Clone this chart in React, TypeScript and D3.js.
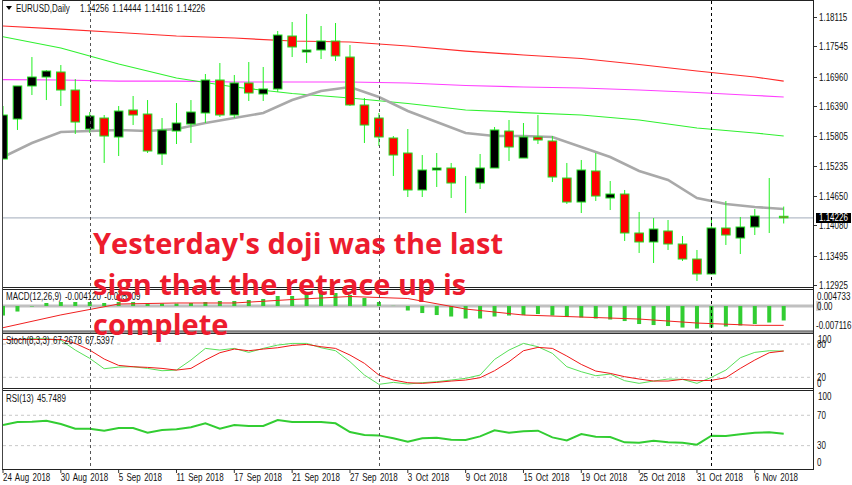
import React, { useEffect, useRef } from "react";
import * as d3 from "d3";

// open, high, low, close per daily bar
const opens = [1.15365,1.1614,1.16779,1.16953,1.1705,1.16701,1.15946,1.16159,1.15791,1.16314,1.16236,1.15462,1.15907,1.16043,1.16256,1.16895,1.16217,1.16837,1.16624,1.16721,1.17747,1.17437,1.17476,1.1765,1.1734,1.16411,1.16159,1.15772,1.15481,1.14765,1.15152,1.15191,1.149,1.149,1.15191,1.15907,1.15384,1.15791,1.15714,1.14997,1.14532,1.15133,1.1461,1.14687,1.13932,1.13758,1.13971,1.13719,1.13428,1.13138,1.14029,1.13835,1.14048,1.14261,1.14256];
const highs = [1.16391,1.16779,1.1734,1.17088,1.17185,1.16914,1.16275,1.16217,1.16391,1.16585,1.16507,1.16159,1.16449,1.16507,1.17011,1.17224,1.16992,1.17243,1.17147,1.17844,1.18018,1.18173,1.17941,1.17999,1.17573,1.16546,1.16256,1.1581,1.15946,1.15442,1.15481,1.15288,1.15036,1.15462,1.15985,1.1612,1.16062,1.16217,1.1581,1.15288,1.15346,1.15481,1.14939,1.14765,1.14339,1.14222,1.14184,1.13874,1.13603,1.14242,1.14552,1.14242,1.14397,1.14997,1.14444];
const lows = [1.15365,1.15927,1.16604,1.16507,1.16391,1.15849,1.15869,1.15288,1.15423,1.16023,1.15481,1.15249,1.15655,1.15675,1.16062,1.16178,1.16159,1.16488,1.16488,1.16662,1.1734,1.17224,1.17301,1.17263,1.16391,1.15675,1.15617,1.15036,1.14629,1.14629,1.14823,1.1461,1.14319,1.14784,1.15191,1.15326,1.15384,1.15655,1.1492,1.14494,1.14319,1.14552,1.14377,1.13777,1.13545,1.13351,1.13603,1.1339,1.13002,1.13138,1.137,1.13525,1.13893,1.13932,1.14116];
const closes = [1.16217,1.16779,1.16953,1.17069,1.16701,1.16081,1.16198,1.1581,1.16294,1.16217,1.1552,1.15927,1.16062,1.16275,1.16895,1.16217,1.16837,1.16643,1.16721,1.17766,1.17534,1.17476,1.1765,1.1736,1.16411,1.16023,1.15791,1.15442,1.14765,1.15152,1.15191,1.149,1.149,1.15191,1.15927,1.15597,1.15791,1.15733,1.15016,1.14532,1.15152,1.14648,1.14687,1.13932,1.13758,1.14009,1.13719,1.13428,1.13138,1.14029,1.13893,1.14048,1.14261,1.14261,1.14226];

// slow moving averages, read every 4th bar
const slowBars = [0,4,8,12,16,20,24,28,32,36,40,44,48,52,54];
const maRed = [1.17941,1.17882,1.17815,1.17747,1.17708,1.1765,1.17631,1.17553,1.17456,1.17379,1.17311,1.17195,1.17069,1.16953,1.16875];
const maPink = [1.16904,1.16895,1.16875,1.16875,1.16856,1.16856,1.16856,1.16837,1.16788,1.16759,1.1674,1.16701,1.16653,1.16595,1.16566];
const maGreen = [1.17733,1.17514,1.17205,1.16934,1.16759,1.16633,1.16546,1.1644,1.16314,1.16265,1.16217,1.1612,1.15965,1.15869,1.1581];

// fast average, read every 2nd bar
const grayBars = d3.range(0, 55, 2);
const maGray = [1.15404,1.15675,1.15888,1.15907,1.15927,1.15907,1.15946,1.16062,1.16159,1.16256,1.16507,1.16682,1.16759,1.16566,1.16294,1.16081,1.15869,1.1581,1.1581,1.15791,1.15597,1.15404,1.15133,1.14958,1.1461,1.14494,1.14435,1.14397];

const macdHist = [-0.00271,-0.00157,-0.00014,0.00086,0.00114,0.00114,0.00114,0.00086,0.00114,0.00114,0.00086,0.00071,0.00071,0.00086,0.00114,0.00143,0.00143,0.00171,0.002,0.00285,0.00285,0.00328,0.00371,0.00371,0.00314,0.00228,0.00114,0.00005,-0.00128,-0.002,-0.00257,-0.00299,-0.00356,-0.00356,-0.00299,-0.00271,-0.00257,-0.00228,-0.00271,-0.00314,-0.00328,-0.00356,-0.00385,-0.00428,-0.00513,-0.00542,-0.0057,-0.00613,-0.00641,-0.00613,-0.00584,-0.00556,-0.00513,-0.0047,-0.00412];
const macdSignal = [-0.00618,-0.00254,0.00057,0.00086,0.00086,0.00185,0.00271,0.00214,-0.00086,-0.00257,-0.00314,-0.00371,-0.00485,-0.0055,-0.00551];

const stochMain = [88.4,88,89.6,89.6,87,69.2,54.2,35.5,38.5,39.1,36.1,31.9,33.1,51.2,72.2,69.2,72.2,65,72.2,78.2,81.2,81.2,73.4,68,48.2,24.1,7.3,10.9,7.9,10.3,12.1,15.1,18.1,24.1,52.3,69.2,81.2,75.2,63.2,39.1,30.1,22.9,25.9,13.9,9.1,13.3,16.9,16.3,9.1,20,33.1,55.4,65,68,67.27];
const stochSignal = [88.4,88,88.4,88.4,88.4,81.2,69.2,53,41.5,39.1,37.9,36.1,33.1,36.1,51.2,64.4,71,68,71,73.4,77.6,79.4,75.2,72.2,60.2,45.2,24.1,15.1,10.3,9.1,10.9,13.3,15.1,19.3,31.9,48.2,68,74,72.2,58.4,43.3,31.3,27.1,21.1,16.9,13.3,13.3,16.3,13.9,14.5,19.3,36.1,51.2,64.4,67.54];
const rsiValues = [57.2,61.1,61.6,62.9,58.5,52.3,52.3,49.7,53.2,53.2,47.1,50.6,51.5,54.1,59.4,52.3,57.2,55.9,55.9,63.8,61.1,61.1,61.1,59.4,47.9,44,43.5,39.6,35.2,39.6,40.5,37.8,37.4,42.2,50.1,47.1,48.8,49.7,40.9,36.9,45.3,41.8,41.3,34.3,33.9,36.5,34.3,33.9,31.2,43.1,42.7,44.9,47.1,47.5,45.75];

const priceTicks = ["1.18115","1.17545","1.16960","1.16390","1.15805","1.15235","1.14650","1.14080","1.13495","1.12925"];
const dateLabels = ["24 Aug 2018","30 Aug 2018","5 Sep 2018","11 Sep 2018","17 Sep 2018","21 Sep 2018","27 Sep 2018","3 Oct 2018","9 Oct 2018","15 Oct 2018","19 Oct 2018","25 Oct 2018","31 Oct 2018","6 Nov 2018"];
const dividerBars = [6, 26, 49];
const lastPrice = 1.14226;
const annotation = ["Yesterday's doji was the last", "sign that the retrace up is", "complete"];
const annotationBase = [254, 295, 335];

const W = 852;
const H = 485;
const right = 814;
const font = "'Liberation Sans', sans-serif";
const labelSize = 10;
const labelColor = "#111";

// the terminal font is narrower than anything installed, so squeeze the labels
const label = (g: any, t: string, px: number, py: number, fill = labelColor) =>
  g
    .append("text")
    .attr("transform", `translate(${px},${py}) scale(0.8,1)`)
    .attr("font-family", font)
    .attr("font-size", labelSize)
    .attr("word-spacing", 1.5)
    .attr("fill", fill)
    .text(t);

const App: React.FC = () => {
  const svgRef = useRef<SVGSVGElement>(null);

  useEffect(() => {
    const svg = d3.select(svgRef.current);
    svg.selectAll("*").remove();

    const x = d3.scaleLinear().domain([0, 54]).range([3, 783.7]);
    const y = d3.scaleLinear().domain([1.12925, 1.18115]).range([285, 17]);
    const yMacd = d3.scaleLinear().domain([-0.007116, 0.004733]).range([331, 289.4]);
    const yStoch = d3.scaleLinear().domain([0, 100]).range([388.4, 333]);
    const yRsi = d3.scaleLinear().domain([0, 100]).range([468.4, 392.5]);

    svg.append("rect").attr("width", W).attr("height", H).attr("fill", "#fff");
    svg
      .append("defs")
      .append("clipPath")
      .attr("id", "plot")
      .append("rect")
      .attr("x", 3)
      .attr("y", 0)
      .attr("width", right - 3)
      .attr("height", 470);

    const plot = svg.append("g").attr("clip-path", "url(#plot)");

    // last price line sits under the candles
    plot
      .append("line")
      .attr("x1", 3)
      .attr("x2", right)
      .attr("y1", y(lastPrice))
      .attr("y2", y(lastPrice))
      .attr("stroke", "#b4bcc8")
      .attr("stroke-width", 1.2);

    const slowLine = (vals: number[], bars: number[]) =>
      d3
        .line<number>()
        .x((_, i) => x(bars[i]))
        .y((d) => y(d))(vals);

    plot.append("path").attr("d", slowLine(maRed, slowBars)).attr("fill", "none").attr("stroke", "#ff2a2a").attr("stroke-width", 1.2);
    plot.append("path").attr("d", slowLine(maPink, slowBars)).attr("fill", "none").attr("stroke", "#ff40ff").attr("stroke-width", 1.2);
    plot.append("path").attr("d", slowLine(maGreen, slowBars)).attr("fill", "none").attr("stroke", "#30f030").attr("stroke-width", 1.2);
    plot.append("path").attr("d", slowLine(maGray, grayBars)).attr("fill", "none").attr("stroke", "#a9a9a9").attr("stroke-width", 2.6);

    // candles
    const candles = plot.append("g").selectAll("g").data(opens).join("g");
    candles
      .append("line")
      .attr("x1", (_, i) => x(i))
      .attr("x2", (_, i) => x(i))
      .attr("y1", (_, i) => y(highs[i]))
      .attr("y2", (_, i) => y(lows[i]))
      .attr("stroke", "#22f022")
      .attr("stroke-width", 1);
    candles
      .append("rect")
      .attr("x", (_, i) => x(i) - 4.3)
      .attr("width", 8.6)
      .attr("y", (d, i) => y(Math.max(d, closes[i])))
      .attr("height", (d, i) => Math.abs(y(d) - y(closes[i])))
      .attr("fill", (d, i) => (closes[i] > d ? "#000" : "#f00"))
      .attr("stroke", "#22e022")
      .attr("stroke-width", 1);

    // macd
    plot
      .append("line")
      .attr("x1", 3)
      .attr("x2", right)
      .attr("y1", yMacd(0))
      .attr("y2", yMacd(0))
      .attr("stroke", "#c0c0c0")
      .attr("stroke-width", 3);
    plot
      .append("g")
      .selectAll("rect")
      .data(macdHist)
      .join("rect")
      .attr("x", (_, i) => x(i) - 2)
      .attr("width", 4)
      .attr("y", (d) => yMacd(Math.max(d, 0)))
      .attr("height", (d) => Math.abs(yMacd(d) - yMacd(0)))
      .attr("fill", "#32cd32");
    plot
      .append("path")
      .attr(
        "d",
        d3
          .line<number>()
          .x((_, i) => x(slowBars[i]))
          .y((d) => yMacd(d))(macdSignal),
      )
      .attr("fill", "none")
      .attr("stroke", "#f02020")
      .attr("stroke-width", 1);

    // level lines for stoch and rsi
    const levels = [yStoch(80), yStoch(20), yRsi(70), yRsi(30)];
    plot
      .append("g")
      .selectAll("line")
      .data(levels)
      .join("line")
      .attr("x1", 3)
      .attr("x2", right)
      .attr("y1", (d) => d)
      .attr("y2", (d) => d)
      .attr("stroke", "#c8c8c8")
      .attr("stroke-dasharray", "3 3");

    const paneLine = (scale: d3.ScaleLinear<number, number>) =>
      d3
        .line<number>()
        .x((_, i) => x(i))
        .y((d) => scale(d));

    plot.append("path").attr("d", paneLine(yStoch)(stochMain)).attr("fill", "none").attr("stroke", "#58e058").attr("stroke-width", 1);
    plot.append("path").attr("d", paneLine(yStoch)(stochSignal)).attr("fill", "none").attr("stroke", "#f01818").attr("stroke-width", 1);
    plot.append("path").attr("d", paneLine(yRsi)(rsiValues)).attr("fill", "none").attr("stroke", "#32cd32").attr("stroke-width", 2);

    // vertical dividers
    plot
      .append("g")
      .selectAll("line")
      .data(dividerBars)
      .join("line")
      .attr("x1", (d) => Math.round(x(d)) + 0.5)
      .attr("x2", (d) => Math.round(x(d)) + 0.5)
      .attr("y1", 1)
      .attr("y2", 469)
      .attr("stroke", (d) => (d === 49 ? "#000" : "#555"))
      .attr("stroke-dasharray", "3 3");

    // frames
    const frame = svg.append("g");
    const hLines: [number, string, number][] = [
      [0.5, "#222", 1],
      [287.5, "#222", 1],
      [289.5, "#222", 1],
      [331.5, "#808080", 2.4],
      [333.5, "#333", 1],
      [388.5, "#222", 1],
      [390.5, "#222", 1],
      [469.5, "#222", 1],
    ];
    hLines.forEach(([yy, col, sw]) => {
      frame.append("line").attr("x1", 2).attr("x2", right).attr("y1", yy).attr("y2", yy).attr("stroke", col).attr("stroke-width", sw);
    });
    frame.append("line").attr("x1", 2.5).attr("x2", 2.5).attr("y1", 0).attr("y2", 469).attr("stroke", "#444");
    frame.append("line").attr("x1", right - 0.5).attr("x2", right - 0.5).attr("y1", 0).attr("y2", 470).attr("stroke", "#222");

    // price axis
    const priceAxis = svg.append("g");
    priceTicks.forEach((t) => {
      const yy = Math.round(y(+t)) + 0.5;
      priceAxis.append("line").attr("x1", right).attr("x2", right + 3).attr("y1", yy).attr("y2", yy).attr("stroke", "#333");
      label(priceAxis, t, 819, yy + 3.5);
    });

    svg.append("rect").attr("x", 816).attr("y", 301).attr("width", 5).attr("height", 10).attr("fill", "#d4d4d4");
    const sideLabels: [string, number, number][] = [
      ["0.004733", 296, 817],
      ["0.00", 306, 817],
      ["-0.007116", 325, 816],
      ["100", 339, 818],
      ["80", 344.5, 817],
      ["20", 377.5, 817],
      ["0", 383, 817],
      ["100", 396.5, 818],
      ["70", 415, 817],
      ["30", 445.5, 817],
      ["0", 462.5, 817],
    ];
    const sideGroup = svg.append("g");
    sideLabels.forEach(([t, yy, xx]) => {
      label(sideGroup, t, xx, yy + 3.5);
    });

    // last price tag
    svg.append("rect").attr("x", 816).attr("y", 213).attr("width", 35).attr("height", 10).attr("fill", "#000");
    label(svg, lastPrice.toFixed(5), 819, y(lastPrice) + 3.5, "#fff");

    // date axis
    const dateAxis = svg.append("g");
    dateLabels.forEach((t, i) => {
      const xx = x(i * 4);
      dateAxis.append("line").attr("x1", xx).attr("x2", xx).attr("y1", 470).attr("y2", 473).attr("stroke", "#333");
      label(dateAxis, t, xx, 481);
    });

    // pane captions
    const captions = svg.append("g");
    captions.append("path").attr("d", "M6 6L12 6L9 10Z").attr("fill", "#000");
    label(captions, "EURUSD,Daily", 16, 11.5);
    label(captions, "1.14256 1.14444 1.14116 1.14226", 80, 11.5);
    label(captions, "MACD(12,26,9) -0.004120 -0.005509", 6, 300);
    label(captions, "Stoch(8,3,3) 67.2678 67.5397", 6, 344);
    label(captions, "RSI(13) 45.7489", 6, 402);

    // annotation
    svg
      .append("g")
      .selectAll("text")
      .data(annotation)
      .join("text")
      .attr("x", 93)
      .attr("y", (_, i) => annotationBase[i])
      .attr("font-family", "'Open Sans', sans-serif")
      .attr("font-weight", 700)
      .attr("font-size", 29)
      .attr("fill", "#ed1c2e")
      .text((d) => d);
  }, []);

  return <svg ref={svgRef} width={W} height={H} style={{ position: "absolute", left: 0, top: 0 }} />;
};

export default App;
